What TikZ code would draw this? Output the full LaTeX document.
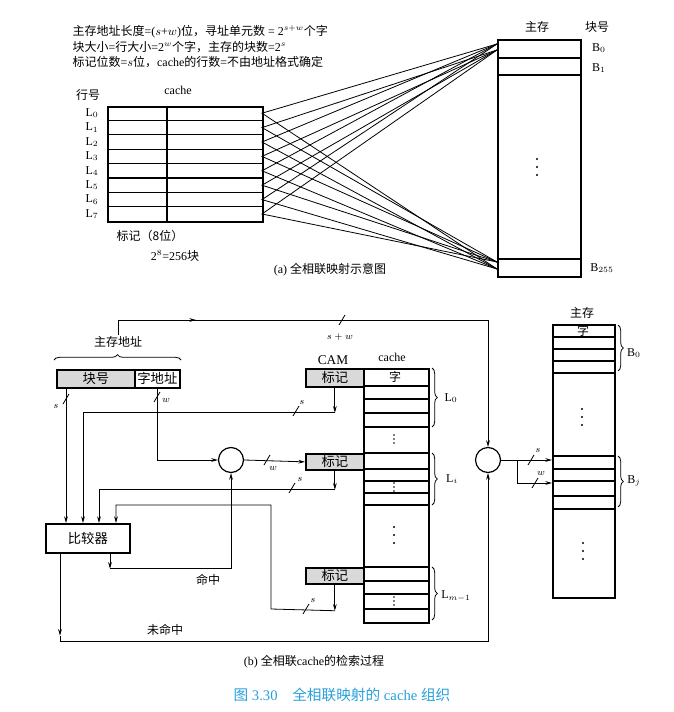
\documentclass[tikz,border=0pt]{standalone}
\usepackage{fontspec}
\setmainfont{Liberation Serif}
\newfontfamily\cjk{Noto Sans CJK SC}
\usetikzlibrary{positioning,calc,arrows.meta,decorations.pathreplacing}
\newcommand{\zh}[1]{{\cjk #1}}
\newcommand{\pxl}[1]{#1*0.75pt}
\definecolor{capblue}{RGB}{40,160,220}

\tikzset{
  box/.style={draw, line width=1.3pt, inner sep=0pt, anchor=north west},
  tagbox/.style={box, fill=black!15},
  hub/.style={draw, circle, line width=0.9pt, minimum size=18.75pt, inner sep=0pt},
  wire/.style={line width=0.6pt},
  arr/.style={wire, -{Stealth[length=5pt,width=2.8pt]}},
  txt/.style={font=\fontsize{9}{10}\selectfont, inner sep=1pt},
  small/.style={font=\fontsize{7.5}{8}\selectfont, inner sep=1pt},
  curly/.style={decorate, decoration={brace, amplitude=4pt}, line width=0.6pt},
  cut/.pic={\draw[wire] (-3,5) -- (3,-5);},
  vdots/.pic={\fill (0,-4) circle (0.7pt) (0,0) circle (0.7pt) (0,4) circle (0.7pt);},
  vdotsw/.pic={\fill (0,-8) circle (0.8pt) (0,0) circle (0.8pt) (0,8) circle (0.8pt);},
}

\begin{document}
\begin{tikzpicture}[x=0.75pt, y=-0.75pt]
  \useasboundingbox (0,0) rectangle (673,712);

  % (a) fully associative mapping
  \node[txt, anchor=west] (fmla1) at (71,32) {\zh{主存地址长度}=($s$+$w$)\zh{位，寻址单元数} = 2$^{s+w}$\zh{个字}};
  \node[txt, anchor=west] (fmla2) at (71,47) {\zh{块大小}=\zh{行大小}=2$^w$\zh{个字，主存的块数}=2$^s$};
  \node[txt, anchor=west] (fmla3) at (71,62) {\zh{标记位数}=$s$\zh{位，}cache\zh{的行数}=\zh{不由地址格式确定}};

  \node[txt] (rowno) at (88,95) {\zh{行号}};
  \node[txt] (cachealbl) at (178,90) {cache};
  \node[box, minimum width=\pxl{155}, minimum height=\pxl{115}] (cachea) at (107,106) {};
  \draw[line width=1pt] (167,106) -- (167,221);
  \foreach \i in {1,...,7}
    \draw[line width=1pt] (107,{106+14.4*\i}) -- (262,{106+14.4*\i});
  \foreach \i in {0,...,7}{
    \node[txt] (lab\i) at (92,{113.2+14.4*\i}) {L$_{\i}$};
    \coordinate (row\i) at (262,{113.2+14.4*\i});
  }
  \node[txt] (tagwidth) at (150,236) {\zh{标记（8位）}};
  \node[txt] (nlines) at (175,256) {2$^8$=256\zh{块}};

  \node[txt] (memalbl) at (537,27) {\zh{主存}};
  \node[txt] (blknolbl) at (597,27) {\zh{块号}};
  \node[box, minimum width=\pxl{83}, minimum height=\pxl{237}] (mema) at (497,39) {};
  \foreach \y in {58,75,259}
    \draw[line width=1pt] (497,\y) -- (580,\y);
  \node[txt] (b0a) at (599,48) {B$_0$};
  \node[txt] (b1a) at (599,68) {B$_1$};
  \node[txt] (b255a) at (602,268) {B$_{255}$};
  \path (537,167) pic{vdotsw};

  \coordinate (mtop) at (497,44);
  \coordinate (mtop2) at (497,50);
  \coordinate (mbot) at (497,262);
  \coordinate (mbot2) at (497,269);
  \foreach \i in {0,2,4,6}
    \draw[wire] (mtop) -- (row\i) -- (mbot2);
  \foreach \i in {1,3,5,7}
    \draw[wire] (mtop2) -- (row\i) -- (mbot);

  \node[txt] (capa) at (330,270) {(a) \zh{全相联映射示意图}};

  % (b) lookup in a fully associative cache
  \node[txt] (addrlbl) at (118,342) {\zh{主存地址}};
  \draw[curly] (54,360) -- (181,360);
  \node[tagbox, minimum width=\pxl{78}, minimum height=\pxl{18}] (blk) at (56,369) {\zh{块号}};
  \node[box, minimum width=\pxl{45}, minimum height=\pxl{18}] (wad) at (134,369) {\zh{字地址}};

  \node[box, minimum width=\pxl{84}, minimum height=\pxl{29}] (cmpr) at (45,523) {\zh{比较器}};
  \node[hub] (hub1) at (231,460) {};
  \node[hub] (hub2) at (488,460) {};

  \node[txt, font=\fontsize{10}{11}\selectfont] (camlbl) at (333,360) {CAM};
  \node[txt] (cacheblbl) at (392,357) {cache};
  \node[box, minimum width=\pxl{65}, minimum height=\pxl{254}] (cacheb) at (363,368) {};
  \foreach \y in {386,399,413,427,453,469,481,493,505,567,581,594,609}
    \draw[line width=1.1pt] (363,\y) -- (428,\y);
  \node[txt] (wcell) at (395,377) {\zh{字}};
  \node[tagbox, minimum width=\pxl{58}, minimum height=\pxl{18}] (tag1) at (305,368) {\zh{标记}};
  \node[tagbox, minimum width=\pxl{58}, minimum height=\pxl{16}] (tag2) at (305,453) {\zh{标记}};
  \node[tagbox, minimum width=\pxl{58}, minimum height=\pxl{16}] (tag3) at (305,567) {\zh{标记}};
  \path (394,439) pic{vdots} (394,487) pic{vdots} (394,535) pic{vdotsw} (394,601) pic{vdots};
  \draw[curly] (432,368) -- (432,427);
  \draw[curly] (432,453) -- (432,505);
  \draw[curly] (432,567) -- (432,620);
  \node[txt] (l0b) at (451,398) {L$_0$};
  \node[txt] (lib) at (452,479) {L$_i$};
  \node[txt] (lmb) at (456,596) {L$_{m-1}$};

  \node[txt] (memblbl) at (582,313) {\zh{主存}};
  \node[box, minimum width=\pxl{62}, minimum height=\pxl{273}] (memb) at (552,324) {};
  \foreach \y in {337,349,361,373,456,469,481,496,509}
    \draw[line width=1.1pt] (552,\y) -- (614,\y);
  \node[txt] (mwcell) at (583,331) {\zh{字}};
  \path (582,417) pic{vdotsw} (583,551) pic{vdotsw};
  \draw[curly] (618,325) -- (618,371);
  \draw[curly] (618,456) -- (618,507);
  \node[txt] (b0b) at (634,353) {B$_0$};
  \node[txt] (bjb) at (634,481) {B$_j$};

  % connectors
  \coordinate (topl) at (118,320);
  \draw[arr] (addrlbl.north) -- (topl) -| (hub2.north);
  \draw[arr] (topl) -- (196,320);
  \path (342,320) pic{cut};
  \node[small] (swlbl) at (340,337) {$s+w$};

  \draw[arr] ([xshift=\pxl{10}]blk.south west) -- ([xshift=\pxl{21}]cmpr.north west);
  \path (66,399) pic{cut};
  \node[small] (s1) at (56,406) {$s$};
  \draw[arr] (wad.south) |- (hub1.west);
  \path (157,397) pic{cut};
  \node[small] (w1) at (166,400) {$w$};

  \draw[arr] (tag1.south) -- ++(0,25) coordinate (t1turn);
  \draw[arr] (t1turn) -| ([xshift=\pxl{38}]cmpr.north west);
  \path (296,411) pic{cut};
  \node[small] (s2) at (302,402) {$s$};

  \draw[arr] (hub1.east) -- (tag2.west);
  \path (267,460) pic{cut};
  \node[small] (w2) at (273,468) {$w$};
  \draw[arr] (tag2.south) -- ++(0,19) coordinate (t2turn);
  \draw[arr] (t2turn) -| ([xshift=\pxl{54}]cmpr.north west);
  \path (292,488) pic{cut};
  \node[small] (s3) at (300,479) {$s$};

  \coordinate (t3a) at (271,609);
  \coordinate (t3b) at (271,505);
  \draw[arr] (tag3.south) -- ++(0,26) coordinate (t3turn);
  \draw[arr] (t3turn) -- (t3a) -- (t3b) -| ([xshift=\pxl{71}]cmpr.north west);
  \path (306,609) pic{cut};
  \node[small] (s4) at (313,600) {$s$};

  \draw[arr] ([xshift=\pxl{65}]cmpr.south west) -- ++(0,15) coordinate (hitturn);
  \draw[arr] (hitturn) -| (hub1.south);
  \node[txt] (hitlbl) at (208,580) {\zh{命中}};

  \coordinate (missturn) at (60,641);
  \draw[arr] ([xshift=\pxl{15}]cmpr.south west) -- ++(0,82) coordinate (missa);
  \draw[arr] (missa) -- (missturn) -| (hub2.south);
  \node[txt] (misslbl) at (165,630) {\zh{未命中}};

  \coordinate (split) at (517,460);
  \coordinate (splitb) at (517,483);
  \draw[arr] (hub2.east) -- (hub2.east -| memb.west);
  \draw[arr] (split) |- (splitb -| memb.west);
  \path (531,460) pic{cut} (535,483) pic{cut};
  \node[small] (s5) at (538,450) {$s$};
  \node[small] (w3) at (541,473) {$w$};

  \node[txt] (capb) at (314,662) {(b) \zh{全相联}cache\zh{的检索过程}};
  \node[txt, text=capblue, font=\fontsize{11}{12}\selectfont] (fig) at (342,695) {\zh{图} 3.30\quad \zh{全相联映射的} cache \zh{组织}};
\end{tikzpicture}
\end{document}
